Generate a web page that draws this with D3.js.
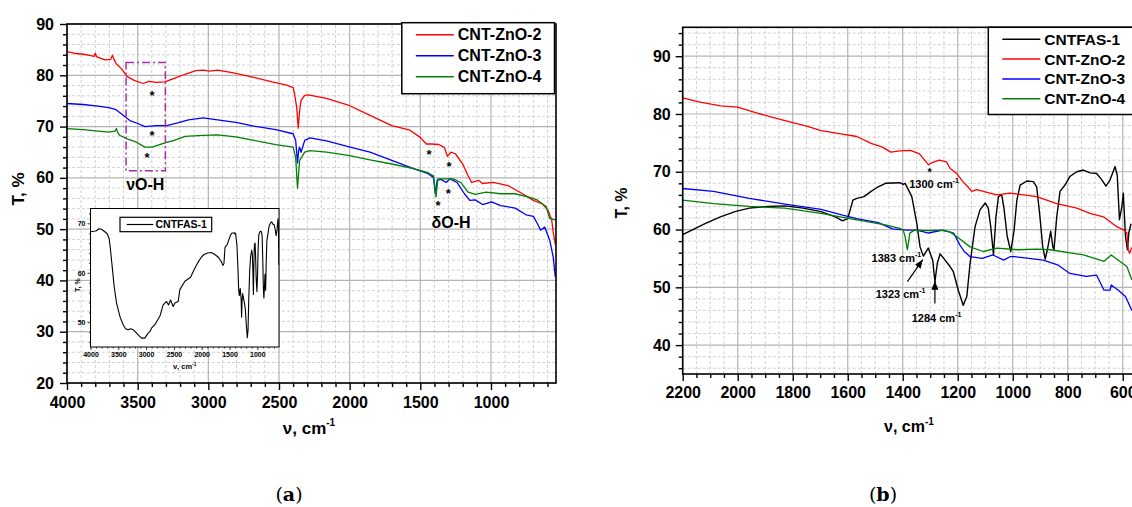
<!DOCTYPE html>
<html>
<head>
<meta charset="utf-8">
<script src="https://cdn.jsdelivr.net/npm/d3@7/dist/d3.min.js"></script>
<style>
  body { margin: 0; background: #fff; }
  svg { display: block; }
</style>
</head>
<body>
<script>
// ---- data: [wavenumber cm-1, transmittance %] ----
var seriesNames = ["CNTFAS-1", "CNT-ZnO-2", "CNT-ZnO-3", "CNT-ZnO-4"];
var seriesColors = ["#000000", "#ff0000", "#0000ff", "#008000"];

// panel (a)
var zno2A = [[4000,84.6],[3950,84.3],[3884,84.1],[3840,83.9],[3807,83.7],[3800,84.3],[3790,83.6],[3730,83.0],[3690,83.1],[3679,83.9],[3665,83.0],[3653,82.3],[3615,81.3],[3576,79.8],[3525,79.0],[3461,78.4],[3422,78.8],[3371,78.6],[3307,78.7],[3242,79.4],[3165,80.2],[3088,80.9],[3037,81.0],[2990,80.8],[2934,81.0],[2832,80.5],[2678,79.6],[2549,78.7],[2446,78.1],[2400,77.6],[2390,76.4],[2375,73.8],[2364,69.7],[2354,73.1],[2344,75.1],[2318,76.1],[2293,76.2],[2164,75.5],[2010,74.2],[1856,72.2],[1702,70.2],[1573,69.3],[1496,67.8],[1458,66.6],[1419,66.6],[1368,66.5],[1329,65.9],[1309,64.2],[1283,65.0],[1252,64.7],[1200,62.7],[1162,60.4],[1137,59.1],[1085,59.5],[1060,58.9],[983,59.1],[880,58.5],[777,56.9],[700,55.6],[636,54.9],[597,53.7],[571,51.9],[559,49.3],[545,47.0]];
var zno3A = [[4000,74.5],[3884,74.3],[3782,74.0],[3705,73.7],[3653,73.3],[3602,72.2],[3551,71.1],[3499,70.6],[3448,70.0],[3371,70.2],[3294,70.2],[3217,70.7],[3140,71.3],[3037,71.7],[2934,71.3],[2806,70.8],[2678,70.1],[2523,69.4],[2400,68.6],[2382,67.3],[2369,62.9],[2360,65.5],[2354,66.0],[2344,65.0],[2318,67.3],[2280,67.8],[2164,67.2],[2010,66.1],[1856,65.0],[1702,63.4],[1548,61.8],[1445,60.8],[1407,60.1],[1394,56.9],[1381,59.5],[1355,59.7],[1317,59.1],[1291,59.8],[1240,59.1],[1188,56.9],[1150,55.6],[1111,55.7],[1060,54.8],[996,55.3],[932,54.6],[829,54.1],[752,52.8],[700,52.5],[670,51.0],[649,49.8],[620,50.4],[585,47.9],[560,44.6],[545,40.7]];
var zno4A = [[4000,69.6],[3884,69.4],[3782,69.1],[3705,68.9],[3660,69.1],[3650,69.6],[3640,68.8],[3628,68.3],[3576,67.6],[3512,67.0],[3448,66.0],[3397,66.0],[3345,66.5],[3307,66.8],[3242,67.3],[3165,68.1],[3037,68.3],[2934,68.4],[2806,68.0],[2678,67.3],[2523,66.5],[2400,66.0],[2382,64.0],[2369,58.0],[2354,63.4],[2318,65.0],[2280,65.3],[2164,65.0],[2010,64.4],[1856,63.5],[1702,62.7],[1548,61.8],[1445,61.0],[1407,60.4],[1389,56.3],[1376,59.8],[1343,59.8],[1266,59.8],[1214,59.1],[1162,57.2],[1111,56.8],[1034,57.2],[932,56.9],[829,56.9],[726,56.2],[674,55.7],[610,54.4],[585,52.1],[545,51.8]];

// CNTFAS-1 (inset of (a) and panel (b))
var cntfas1 = [[4000,68.3],[3940,68.4],[3892,68.5],[3850,68.9],[3802,68.8],[3742,68.3],[3700,67.9],[3664,66.9],[3640,64.6],[3604,60.6],[3574,57.2],[3532,53.9],[3472,51.2],[3412,49.5],[3370,48.7],[3322,48.5],[3280,48.7],[3232,48.5],[3172,47.8],[3120,47.2],[3083,46.8],[3023,46.8],[2963,47.8],[2933,48.1],[2903,48.8],[2843,49.5],[2753,51.2],[2693,53.5],[2633,54.2],[2597,53.5],[2561,54.5],[2513,53.2],[2483,53.9],[2423,54.2],[2393,56.6],[2303,58.3],[2200,59.1],[2167,59.9],[2115,61.1],[2063,62.2],[2010,63.1],[1958,63.7],[1893,64.0],[1828,64.1],[1762,63.7],[1697,63.1],[1645,62.2],[1619,61.5],[1600,61.9],[1581,65.1],[1567,65.4],[1541,65.7],[1515,66.6],[1489,67.4],[1463,68.0],[1411,68.1],[1398,67.8],[1391,68.0],[1367,65.7],[1349,61.1],[1337,57.0],[1325,55.4],[1307,56.8],[1291,54.7],[1283,51.0],[1274,54.2],[1264,55.8],[1246,54.7],[1228,53.6],[1216,52.7],[1198,49.5],[1180,46.9],[1167,48.4],[1155,54.2],[1137,60.5],[1119,63.4],[1100,64.6],[1089,63.7],[1080,60.5],[1070,55.6],[1061,62.2],[1052,65.7],[1040,66.0],[1032,63.7],[1020,58.8],[1007,56.2],[995,59.9],[985,65.1],[973,67.7],[949,68.4],[925,68.3],[913,67.4],[901,62.2],[891,57.0],[882,54.9],[874,56.5],[862,59.7],[854,57.0],[850,56.5],[840,62.2],[828,66.6],[810,67.7],[792,69.2],[767,70.0],[743,70.3],[719,69.8],[695,69.7],[676,68.6],[661,67.5],[646,68.6],[628,70.9],[620,69.4],[612,61.7],[603,64.0],[598,66.3],[590,58.8],[583,56.5],[578,59.4],[570,61.0]];

// panel (b)
var zno2B = [[2200,82.8],[2141,82.1],[2063,81.4],[2000,81.2],[1932,80.2],[1880,79.5],[1800,78.5],[1749,77.9],[1697,77.1],[1619,76.5],[1567,76.1],[1515,74.9],[1476,74.3],[1443,73.4],[1411,73.6],[1372,73.7],[1339,73.1],[1306,71.2],[1293,71.6],[1267,72.0],[1241,71.7],[1228,70.6],[1202,69.6],[1180,68.2],[1163,67.4],[1149,66.6],[1131,66.9],[1083,66.3],[1058,66.0],[1010,66.3],[913,65.7],[840,64.5],[767,63.7],[719,62.8],[670,62.2],[622,60.5],[595,59.9],[585,59.4],[580,56.5],[575,55.9],[567,56.9]];
var zno3B = [[2200,67.1],[2088,66.6],[1958,65.4],[1828,64.4],[1697,63.5],[1619,62.5],[1567,61.9],[1489,61.2],[1437,60.1],[1385,59.9],[1349,59.9],[1306,59.4],[1254,59.9],[1215,59.4],[1192,57.3],[1176,56.2],[1155,55.3],[1111,55.0],[1072,55.6],[1033,54.7],[1010,55.3],[993,55.3],[941,55.0],[889,54.7],[837,53.9],[792,52.4],[733,51.9],[695,52.1],[668,49.5],[646,49.5],[642,50.4],[616,49.5],[590,48.4],[567,46.0]];
var zno4B = [[2200,65.1],[2088,64.5],[1958,64.0],[1828,63.7],[1697,62.8],[1592,61.9],[1463,60.8],[1411,60.2],[1398,59.9],[1391,58.7],[1383,56.5],[1374,59.4],[1367,59.6],[1358,59.9],[1306,59.8],[1264,59.9],[1228,59.6],[1204,58.8],[1155,57.0],[1107,56.2],[1058,56.8],[981,56.5],[915,56.6],[864,56.5],[785,55.9],[743,55.6],[668,54.5],[642,55.6],[616,54.7],[585,53.6],[567,51.3]];

// tick values
var xTicksA = d3.range(4000, 999, -500);
var yTicksA = d3.range(20, 91, 10);
var xTicksB = d3.range(2200, 599, -200);
var yTicksB = d3.range(40, 91, 10);
var xTicksI = d3.range(4000, 999, -500);
var yTicksI = [50, 60, 70];

// annotations in data units
var starsA = [[3399,76.5],[3399,68.7],[3433,64.5],[1438,65.1],[1296,62.7],[1303,57.5],[1374,55.1]];
var bandBoxA = [3582, 3304, 82.5, 61.4];
var peakLabelsB = [
  {text: "1300 cm", v: 1286, t: 67.9},
  {text: "1383 cm", v: 1423, t: 55.0},
  {text: "1323 cm", v: 1408, t: 48.9},
  {text: "1284 cm", v: 1277, t: 44.7}
];
var arrowsB = [[1383, 51.0, 1327, 54.8], [1283, 47.2, 1283, 51.1]];

// ---- layout ----
var W = 1132, H = 507;
var font = "'Liberation Sans', Arial, Helvetica, sans-serif";

var svg = d3.select("body").append("svg")
    .attr("width", W)
    .attr("height", H)
    .style("font-family", font);

var xA = d3.scaleLinear().domain([4000, 540]).range([67, 556]);
var yA = d3.scaleLinear().domain([20, 90]).range([383, 24]);
var xI = d3.scaleLinear().domain([4000, 610]).range([90.5, 279]);
var yI = d3.scaleLinear().domain([45, 73]).range([347, 208.5]);
var xB = d3.scaleLinear().domain([2200, 550]).range([682.7, 1136.5]);
var yB = d3.scaleLinear().domain([35, 95]).range([374, 27.3]);

var defs = svg.append("defs");
function clip(id, x, y) {
  defs.append("clipPath").attr("id", id).append("rect")
    .attr("x", x.range()[0]).attr("y", y.range()[1])
    .attr("width", x.range()[1] - x.range()[0])
    .attr("height", y.range()[0] - y.range()[1]);
}
clip("clipA", xA, yA);
clip("clipI", xI, yI);
clip("clipB", xB, yB);

defs.append("marker").attr("id", "arrow")
    .attr("viewBox", "0 0 10 8").attr("refX", 10).attr("refY", 4)
    .attr("markerWidth", 9).attr("markerHeight", 7)
    .attr("markerUnits", "userSpaceOnUse").attr("orient", "auto")
  .append("path").attr("d", "M0,0 L10,4 L0,8 z").attr("fill", "#000");

function notIn(list) { return function(d) { return list.indexOf(d) < 0; }; }

function grid(x, y, xMaj, xMin, yMaj, yMin) {
  var g = svg.append("g");
  var x0 = x.range()[0], x1 = x.range()[1], y0 = y.range()[0], y1 = y.range()[1];
  g.selectAll(".vmin").data(xMin).enter().append("line")
    .attr("x1", function(d) { return x(d); }).attr("x2", function(d) { return x(d); })
    .attr("y1", y0).attr("y2", y1)
    .attr("stroke", "#d2d2d2").attr("stroke-dasharray", "3,2");
  g.selectAll(".hmin").data(yMin).enter().append("line")
    .attr("y1", function(d) { return y(d); }).attr("y2", function(d) { return y(d); })
    .attr("x1", x0).attr("x2", x1)
    .attr("stroke", "#d2d2d2").attr("stroke-dasharray", "3,2");
  g.selectAll(".vmaj").data(xMaj).enter().append("line")
    .attr("x1", function(d) { return x(d); }).attr("x2", function(d) { return x(d); })
    .attr("y1", y0).attr("y2", y1)
    .attr("stroke", "#b4b4b4").attr("stroke-width", 1.2);
  g.selectAll(".hmaj").data(yMaj).enter().append("line")
    .attr("y1", function(d) { return y(d); }).attr("y2", function(d) { return y(d); })
    .attr("x1", x0).attr("x2", x1)
    .attr("stroke", "#b4b4b4").attr("stroke-width", 1.2);
}

function axes(x, y, o) {
  var y0 = y.range()[0];
  var x0 = x.range()[0];
  var g = svg.append("g");

  var bx = g.append("g").attr("transform", "translate(0," + y0 + ")");
  bx.append("g").call(d3.axisBottom(x).tickValues(o.xMin).tickSize(o.minor).tickFormat(""));
  bx.append("g").call(d3.axisBottom(x).tickValues(o.xMaj).tickSize(o.major)
    .tickPadding(o.padX).tickFormat(d3.format("d")));

  var ly = g.append("g").attr("transform", "translate(" + x0 + ",0)");
  ly.append("g").call(d3.axisLeft(y).tickValues(o.yMin).tickSize(o.minor).tickFormat(""));
  ly.append("g").call(d3.axisLeft(y).tickValues(o.yMaj).tickSize(o.major)
    .tickPadding(o.padY).tickFormat(d3.format("d")));

  g.selectAll(".domain").remove();
  g.selectAll(".tick line").attr("stroke", "#000").attr("stroke-width", o.sw);
  g.selectAll(".tick text")
    .attr("fill", "#000")
    .style("font-family", font)
    .style("font-size", o.fs + "px")
    .style("font-weight", "bold");

  g.append("rect")
    .attr("x", x0).attr("y", y.range()[1])
    .attr("width", x.range()[1] - x0).attr("height", y0 - y.range()[1])
    .attr("fill", "none").attr("stroke", "#000").attr("stroke-width", o.frame);
}

function curve(x, y, data, color, clipId, sw) {
  var line = d3.line()
    .x(function(d) { return x(d[0]); })
    .y(function(d) { return y(d[1]); });
  svg.append("path").datum(data)
    .attr("clip-path", "url(#" + clipId + ")")
    .attr("d", line)
    .attr("fill", "none")
    .attr("stroke", color)
    .attr("stroke-width", sw)
    .attr("stroke-linejoin", "round");
}

function cmLabel(sel, main, fs) {
  sel.append("tspan").text(main);
  sel.append("tspan").attr("font-size", Math.round(fs * 0.6)).attr("dy", -fs * 0.45).text("-1");
}

function legend(x, y, w, rowH, names, colors, fs, lineLen) {
  var g = svg.append("g");
  g.append("rect").attr("x", x).attr("y", y).attr("width", w)
    .attr("height", rowH * names.length + 8)
    .attr("fill", "#fff").attr("stroke", "#000").attr("stroke-width", 1.5);
  names.forEach(function(n, i) {
    var cy = y + 12 + i * rowH;
    g.append("line").attr("x1", x + 14).attr("x2", x + 14 + lineLen)
      .attr("y1", cy).attr("y2", cy)
      .attr("stroke", colors[i]).attr("stroke-width", 1.5);
    g.append("text").attr("x", x + 18 + lineLen).attr("y", cy)
      .attr("dy", "0.35em")
      .style("font-size", fs + "px").style("font-weight", "bold")
      .text(n);
  });
}

// ---- panel (a) ----
grid(xA, yA, xTicksA, d3.range(4000, 540, -100).filter(notIn(xTicksA)),
     yTicksA, d3.range(20, 91, 2).filter(notIn(yTicksA)));

curve(xA, yA, zno2A, seriesColors[1], "clipA", 1.3);
curve(xA, yA, zno3A, seriesColors[2], "clipA", 1.3);
curve(xA, yA, zno4A, seriesColors[3], "clipA", 1.3);

axes(xA, yA, {
  xMaj: xTicksA, xMin: d3.range(4000, 540, -100).filter(notIn(xTicksA)),
  yMaj: yTicksA, yMin: d3.range(20, 91, 2).filter(notIn(yTicksA)),
  major: 7, minor: 4, padX: 7, padY: 6, fs: 16, sw: 1.4, frame: 1.6
});

// O-H band box and stars
svg.append("rect")
  .attr("x", xA(bandBoxA[0])).attr("y", yA(bandBoxA[2]))
  .attr("width", xA(bandBoxA[1]) - xA(bandBoxA[0]))
  .attr("height", yA(bandBoxA[3]) - yA(bandBoxA[2]))
  .attr("fill", "none").attr("stroke", "#a0309f").attr("stroke-width", 1.5)
  .attr("stroke-dasharray", "8,3,2,3");

svg.selectAll(".starA").data(starsA).enter().append("text")
  .attr("x", function(d) { return xA(d[0]); })
  .attr("y", function(d) { return yA(d[1]) + 7; })
  .attr("text-anchor", "middle")
  .style("font-size", "13px").style("font-weight", "bold")
  .text("*");

svg.append("text").attr("x", xA(3446)).attr("y", yA(58.8)).attr("dy", "0.35em")
  .attr("text-anchor", "middle").style("font-size", "16px").style("font-weight", "bold")
  .text("\u03BDO-H");
svg.append("text").attr("x", xA(1282)).attr("y", yA(51.3)).attr("dy", "0.35em")
  .attr("text-anchor", "middle").style("font-size", "16px").style("font-weight", "bold")
  .text("\u03B4O-H");

legend(401.8, 22.7, 152.7, 21, seriesNames.slice(1), seriesColors.slice(1), 16, 38);

// inset
svg.append("rect")
  .attr("x", xI.range()[0]).attr("y", yI.range()[1])
  .attr("width", xI.range()[1] - xI.range()[0])
  .attr("height", yI.range()[0] - yI.range()[1])
  .attr("fill", "#fff");
curve(xI, yI, cntfas1, seriesColors[0], "clipI", 1.1);
axes(xI, yI, {
  xMaj: xTicksI, xMin: d3.range(4000, 610, -100).filter(notIn(xTicksI)),
  yMaj: yTicksI, yMin: d3.range(46, 73, 2).filter(notIn(yTicksI)),
  major: 3, minor: 1.5, padX: 2, padY: 2, fs: 7, sw: 0.8, frame: 1
});
svg.append("rect").attr("x", 120).attr("y", 217.3).attr("width", 91.7).attr("height", 14.4)
  .attr("fill", "#fff").attr("stroke", "#000").attr("stroke-width", 1.2);
svg.append("line").attr("x1", 126.7).attr("x2", 153.3).attr("y1", 224.5).attr("y2", 224.5)
  .attr("stroke", "#000").attr("stroke-width", 1.2);
svg.append("text").attr("x", 155.5).attr("y", 224.5).attr("dy", "0.35em")
  .style("font-size", "10.5px").style("font-weight", "bold").text(seriesNames[0]);
svg.append("text")
  .attr("transform", "translate(79.5," + yI(57.5) + ") rotate(-90)")
  .attr("text-anchor", "middle").style("font-size", "7px").style("font-weight", "bold")
  .text("T, %");
cmLabel(svg.append("text").attr("x", (xI.range()[0] + xI.range()[1]) / 2).attr("y", 369)
  .attr("text-anchor", "middle").style("font-size", "7.5px").style("font-weight", "bold"),
  "\u03BD, cm", 7.5);

// axis titles (a)
svg.append("text")
  .attr("transform", "translate(24,189) rotate(-90)")
  .attr("text-anchor", "middle").style("font-size", "17px").style("font-weight", "bold")
  .text("T, %");
cmLabel(svg.append("text").attr("x", 309).attr("y", 434)
  .attr("text-anchor", "middle").style("font-size", "17px").style("font-weight", "bold"),
  "\u03BD, cm", 17);

// ---- panel (b) ----
grid(xB, yB, xTicksB, d3.range(2200, 550, -50).filter(notIn(xTicksB)),
     yTicksB, d3.range(36, 95, 2).filter(notIn(yTicksB)));

curve(xB, yB, cntfas1, seriesColors[0], "clipB", 1.4);
curve(xB, yB, zno2B, seriesColors[1], "clipB", 1.3);
curve(xB, yB, zno3B, seriesColors[2], "clipB", 1.3);
curve(xB, yB, zno4B, seriesColors[3], "clipB", 1.3);

axes(xB, yB, {
  xMaj: xTicksB, xMin: d3.range(2200, 550, -50).filter(notIn(xTicksB)),
  yMaj: yTicksB, yMin: d3.range(36, 95, 2).filter(notIn(yTicksB)),
  major: 7, minor: 4, padX: 6, padY: 5, fs: 16, sw: 1.4, frame: 1.6
});

svg.append("text").attr("x", xB(1302)).attr("y", yB(70.3) + 6)
  .attr("text-anchor", "middle").style("font-size", "11px").style("font-weight", "bold")
  .text("*");

peakLabelsB.forEach(function(p) {
  cmLabel(svg.append("text").attr("x", xB(p.v)).attr("y", yB(p.t)).attr("dy", "0.35em")
    .attr("text-anchor", "middle").style("font-size", "11px").style("font-weight", "bold"),
    p.text, 11);
});

svg.selectAll(".arrowB").data(arrowsB).enter().append("line")
  .attr("x1", function(d) { return xB(d[0]); }).attr("y1", function(d) { return yB(d[1]); })
  .attr("x2", function(d) { return xB(d[2]); }).attr("y2", function(d) { return yB(d[3]); })
  .attr("stroke", "#000").attr("stroke-width", 1.2)
  .attr("marker-end", "url(#arrow)");

legend(988.3, 27.3, 170, 19.8, seriesNames, seriesColors, 15.5, 38);

svg.append("text")
  .attr("transform", "translate(627,203) rotate(-90)")
  .attr("text-anchor", "middle").style("font-size", "16px").style("font-weight", "bold")
  .text("T, %");
cmLabel(svg.append("text").attr("x", 909).attr("y", 432)
  .attr("text-anchor", "middle").style("font-size", "16px").style("font-weight", "bold"),
  "\u03BD, cm", 16);

// panel letters
[["a", 289], ["b", 883]].forEach(function(p) {
  var t = svg.append("text").attr("x", p[1]).attr("y", 501)
    .attr("text-anchor", "middle")
    .style("font-family", "'DejaVu Serif', 'Liberation Serif', serif")
    .style("font-size", "19px");
  t.append("tspan").text("(");
  t.append("tspan").style("font-weight", "bold").text(p[0]);
  t.append("tspan").text(")");
});
</script>
</body>
</html>
